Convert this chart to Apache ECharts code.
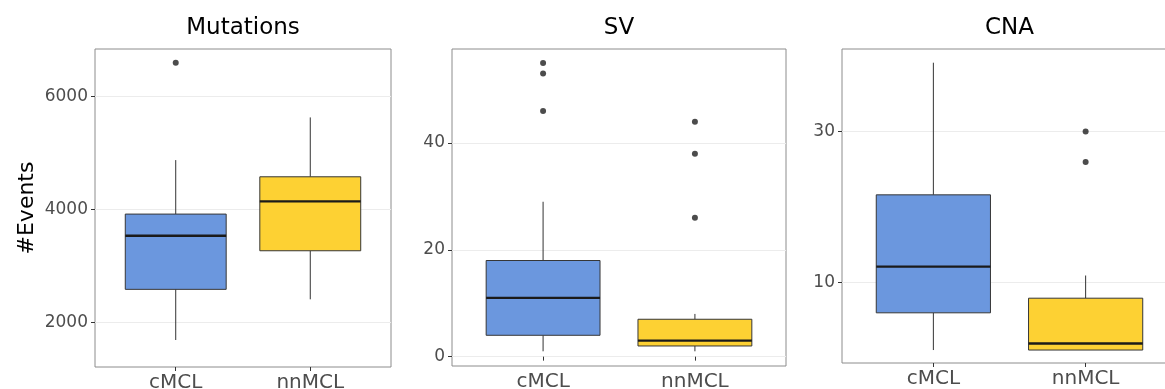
<!DOCTYPE html>
<html>
<head>
<meta charset="utf-8">
<title>#Events by subtype</title>
<script src="https://cdn.jsdelivr.net/npm/echarts@6/dist/echarts.min.js"></script>
<style>
  html, body { margin: 0; padding: 0; background: #ffffff; }
  #chart { width: 1165px; height: 389px; }
</style>
</head>
<body>
<div id="chart"></div>
<script>
// Groups shown on every panel
const groups = ['cMCL', 'nnMCL'];

// Box statistics per group: [lower whisker, Q1, median, Q3, upper whisker]
const mutationsStats = [
  [1692, 2587, 3534, 3917, 4871],
  [2411, 3269, 4141, 4576, 5625]
];
const mutationsOutliers = [[6590], []];
const mutationsTicks = [2000, 4000, 6000];

const svStats = [
  [1, 4, 11, 18, 29],
  [1, 2, 3, 7, 8]
];
const svOutliers = [[46, 53, 55], [26, 38, 44]];
const svTicks = [0, 20, 40];

const cnaStats = [
  [6.1, 8.0, 11.2, 18.9, 49.5],
  [6.1, 6.1, 6.4, 8.9, 10.5]
];
const cnaOutliers = [[], [24, 30]];
const cnaTicks = [10, 30];

const groupColors = ['#6b97de', '#fdd133'];
const BOX_WIDTH = 0.75;

const panels = [
  { title: 'Mutations', stats: mutationsStats, outliers: mutationsOutliers, ticks: mutationsTicks,
    yType: 'value', yMin: 1215, yMax: 6834, grid: { left: 95, top: 49, width: 296, height: 318 } },
  { title: 'SV', stats: svStats, outliers: svOutliers, ticks: svTicks,
    yType: 'value', yMin: -1.75, yMax: 57.6, grid: { left: 452, top: 49, width: 334, height: 317 } },
  { title: 'CNA', stats: cnaStats, outliers: cnaOutliers, ticks: cnaTicks,
    yType: 'log', yMin: 5.55, yMax: 54.7, grid: { left: 842, top: 49, width: 335, height: 314 } }
];

const FONT = 'DejaVu Sans';

// Tukey-style box without whisker caps
function renderBox(params, api) {
  const x = api.value(0);
  const lo = api.coord([x, api.value(1)]);
  const q1 = api.coord([x, api.value(2)]);
  const md = api.coord([x, api.value(3)]);
  const q3 = api.coord([x, api.value(4)]);
  const hi = api.coord([x, api.value(5)]);
  const half = api.size([BOX_WIDTH, 0], [x, api.value(3)])[0] / 2;
  const fill = groupColors[params.dataIndex % groupColors.length];
  const edge = '#363636';
  return {
    type: 'group',
    children: [
      { type: 'line', shape: { x1: lo[0], y1: lo[1], x2: q1[0], y2: q1[1] },
        style: { stroke: '#333333', lineWidth: 1 } },
      { type: 'line', shape: { x1: q3[0], y1: q3[1], x2: hi[0], y2: hi[1] },
        style: { stroke: '#333333', lineWidth: 1 } },
      { type: 'rect', shape: { x: q3[0] - half, y: q3[1], width: half * 2, height: q1[1] - q3[1] },
        style: { fill: fill, stroke: edge, lineWidth: 1 } },
      { type: 'line', shape: { x1: md[0] - half, y1: md[1], x2: md[0] + half, y2: md[1] },
        style: { stroke: '#1a1a1a', lineWidth: 2.4 } }
    ]
  };
}

const option = {
  backgroundColor: '#ffffff',
  animation: false,
  title: [],
  grid: [],
  xAxis: [],
  yAxis: [],
  series: []
};

panels.forEach((p, i) => {
  const centre = p.grid.left + p.grid.width / 2;
  option.title.push({
    text: p.title,
    left: centre - 5,
    top: 12,
    textAlign: 'center',
    textStyle: { fontFamily: FONT, fontSize: 23, fontWeight: 'normal', color: '#000000' }
  });
  option.grid.push(Object.assign({
    show: true, borderColor: '#8c8c8c', borderWidth: 1, backgroundColor: '#ffffff',
    containLabel: false, outerBoundsMode: 'none'
  }, p.grid));
  option.xAxis.push({
    gridIndex: i,
    type: 'value',
    min: 0.4,
    max: 2.6,
    axisLine: { show: false },
    splitLine: { show: false },
    axisTick: { show: true, length: 4, customValues: [1, 2], lineStyle: { color: '#333333' } },
    axisLabel: {
      customValues: [1, 2],
      formatter: v => groups[Math.round(v) - 1],
      margin: 6,
      fontFamily: FONT, fontSize: 20, color: '#4d4d4d'
    }
  });
  const yAxis = {
    gridIndex: i,
    type: p.yType,
    min: p.yMin,
    max: p.yMax,
    axisLine: { show: false },
    axisTick: { show: true, length: 4, customValues: p.ticks, lineStyle: { color: '#333333' } },
    axisLabel: {
      customValues: p.ticks,
      formatter: v => String(v),
      margin: 7,
      fontFamily: FONT, fontSize: 17, color: '#4d4d4d'
    },
    splitLine: { show: true, customValues: p.ticks, lineStyle: { color: '#ececec', width: 1 } }
  };
  if (p.yType === 'log') yAxis.logBase = 10;
  if (i === 0) {
    yAxis.name = '#Events';
    yAxis.nameLocation = 'middle';
    yAxis.nameRotate = 90;
    yAxis.nameGap = 57;
    yAxis.nameTextStyle = { fontFamily: FONT, fontSize: 22, color: '#000000' };
  }
  option.yAxis.push(yAxis);

  option.series.push({
    type: 'custom',
    xAxisIndex: i,
    yAxisIndex: i,
    renderItem: renderBox,
    encode: { x: 0, y: [1, 2, 3, 4, 5] },
    data: p.stats.map((s, g) => [g + 1].concat(s)),
    silent: true
  });
  const pts = [];
  p.outliers.forEach((vals, g) => vals.forEach(v => pts.push([g + 1, v])));
  option.series.push({
    type: 'scatter',
    xAxisIndex: i,
    yAxisIndex: i,
    symbolSize: 6,
    itemStyle: { color: '#1f1f1f' },
    data: pts,
    silent: true
  });
});

const chart = echarts.init(document.getElementById('chart'), null, { renderer: 'canvas' });
chart.setOption(option);
</script>
</body>
</html>
